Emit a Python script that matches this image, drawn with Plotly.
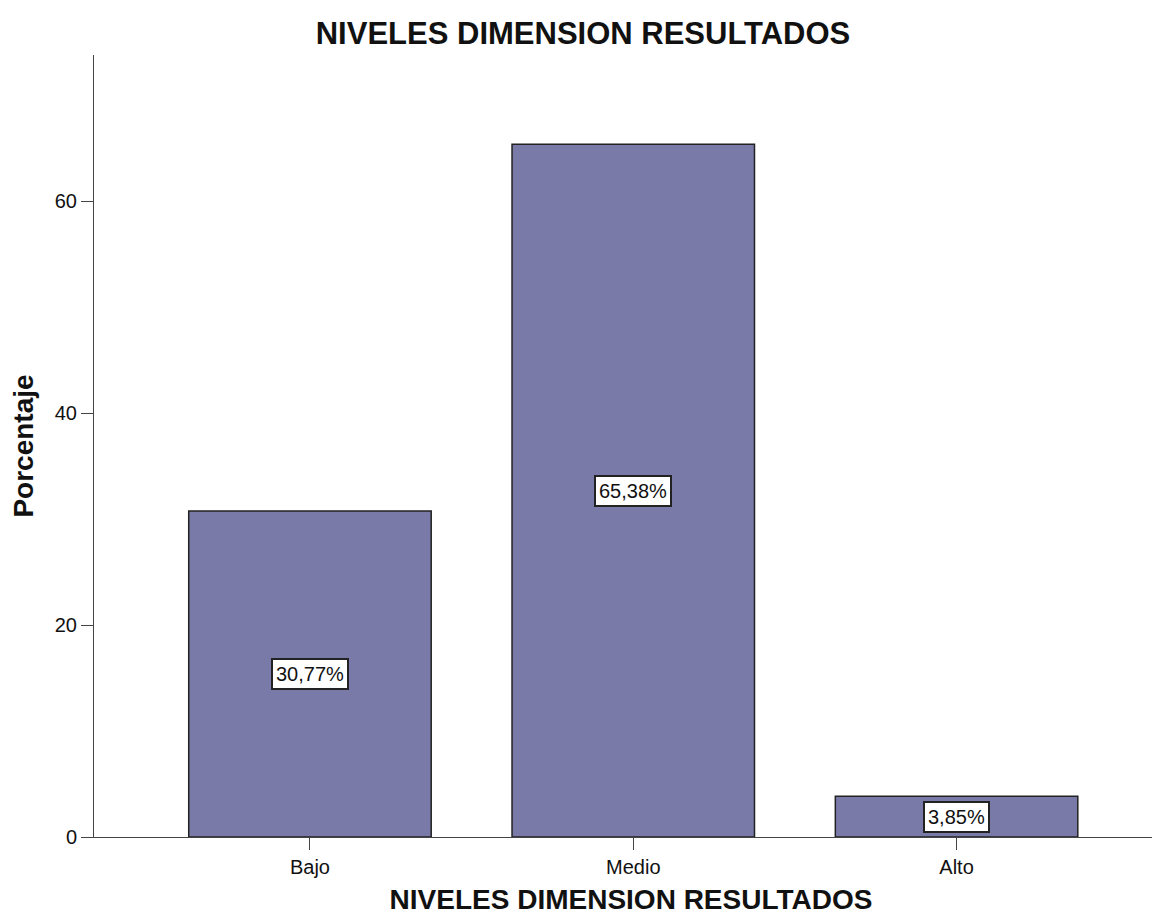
import plotly.graph_objects as go

categories = ["Bajo", "Medio", "Alto"]
values = [30.77, 65.38, 3.85]
labels = ["30,77%", "65,38%", "3,85%"]

FONT = "Liberation Sans, Arial"

fig = go.Figure()
fig.add_trace(go.Bar(
    x=categories, y=values, width=0.75,
    marker=dict(color="#7a7aa8", line=dict(color="#222222", width=1.5)),
    hoverinfo="skip",
))

for c, v, t in zip(categories, values, labels):
    fig.add_annotation(
        x=c, y=v / 2, text=t, showarrow=False,
        font=dict(family=FONT, size=20, color="#111111"),
        bgcolor="white", bordercolor="#222222", borderwidth=2, borderpad=3,
    )

fig.update_layout(
    width=1160, height=922,
    margin=dict(l=86, r=0, t=47, b=93, autoexpand=False),
    paper_bgcolor="white", plot_bgcolor="white",
    showlegend=False,
    font=dict(family=FONT, size=20, color="#111111"),
    title=dict(text="<b>NIVELES DIMENSION RESULTADOS</b>", x=(583 - 8) / 1160, xanchor="center",
               y=1 - 25 / 922, yanchor="middle",
               font=dict(size=31, color="#111111")),
)
fig.update_xaxes(
    range=[-0.668, 2.654], showline=True, linecolor="#444444", linewidth=1,
    ticks="outside", ticklen=12, tickcolor="#444444", showgrid=False,
    title=dict(text="<b>NIVELES DIMENSION RESULTADOS</b>", font=dict(size=28), standoff=12),
    tickfont=dict(size=20),
)
fig.update_yaxes(
    range=[0, 73.8], showline=True, linecolor="#444444", linewidth=1,
    ticks="outside", ticklen=12, tickcolor="#444444", showgrid=False, zeroline=False,
    tickvals=[0, 20, 40, 60],
    title=dict(text="<b>Porcentaje</b>", font=dict(size=28), standoff=14),
    tickfont=dict(size=20),
)

fig.write_html("out.html")
